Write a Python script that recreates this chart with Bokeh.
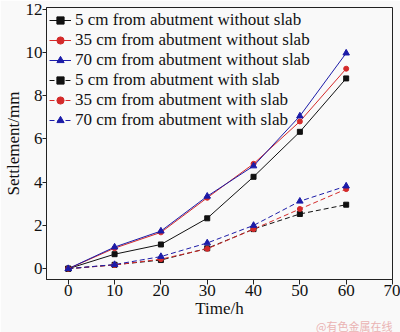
from bokeh.plotting import figure
from bokeh.models import Range1d, FixedTicker, Legend, LegendItem, Title
from bokeh.embed import file_html
from bokeh.resources import INLINE

time_h = [0, 10, 20, 30, 40, 50, 60]
s5_without = [0, 0.67, 1.12, 2.33, 4.25, 6.33, 8.8]
s35_without = [0, 0.95, 1.68, 3.28, 4.85, 6.81, 9.25]
s70_without = [0, 1.0, 1.74, 3.35, 4.75, 7.06, 9.97]
s5_with = [0, 0.18, 0.4, 0.94, 1.83, 2.53, 2.96]
s35_with = [0, 0.17, 0.44, 0.92, 1.83, 2.76, 3.68]
s70_with = [0, 0.19, 0.56, 1.19, 2.0, 3.12, 3.82]

labels = ["5 cm from abutment without slab", "35 cm from abutment without slab",
          "70 cm from abutment without slab", "5 cm from abutment with slab",
          "35 cm from abutment with slab", "70 cm from abutment with slab"]
x_ticks = [0, 10, 20, 30, 40, 50, 60, 70]
y_ticks = [0, 2, 4, 6, 8, 10, 12]
watermark = "@有色金属在线"

FONT = "Times New Roman"
BLACK = "#111111"
RED = "#d42a2a"
BLUE = "#1c1ca8"

p = figure(width=400, height=332, output_backend="svg", toolbar_location=None,
           x_range=Range1d(-4.7, 70), y_range=Range1d(-0.5, 12.08),
           min_border_left=0, min_border_right=8, min_border_top=7, min_border_bottom=0,
           background_fill_color="#f9f9f9", border_fill_color="#f9f9f9")
p.grid.visible = False
p.outline_line_color = "#222222"
p.outline_line_width = 1

for ax in (p.xaxis[0], p.yaxis[0]):
    ax.major_tick_in = 0
    ax.major_tick_out = 5
    ax.minor_tick_line_color = None
    ax.major_label_text_font = FONT
    ax.major_label_text_font_size = "17px"
    ax.major_label_text_color = "#111111"
    ax.axis_label_text_font = FONT
    ax.axis_label_text_font_size = "17px"
    ax.axis_label_text_font_style = "normal"
    ax.axis_label_text_color = "#111111"
    ax.axis_line_color = "#222222"
    ax.major_tick_line_color = "#222222"
p.xaxis[0].ticker = FixedTicker(ticks=x_ticks)
p.yaxis[0].ticker = FixedTicker(ticks=y_ticks)
p.xaxis[0].axis_label = "Time/h"
p.yaxis[0].axis_label = "Settlement/mm"
p.xaxis[0].major_label_standoff = 0
p.yaxis[0].major_label_standoff = 0
p.yaxis[0].major_tick_out = 4
p.xaxis[0].axis_label_standoff = 0
p.yaxis[0].axis_label_standoff = 0

series = [
    (s5_without, BLACK, "square", None),
    (s35_without, RED, "circle", None),
    (s70_without, BLUE, "triangle", None),
    (s5_with, BLACK, "square", "5 3"),
    (s35_with, RED, "circle", "5 3"),
    (s70_with, BLUE, "triangle", "5 3"),
]
items = []
for (ys, color, marker, dash), lab in zip(series, labels):
    kw = {}
    if dash:
        kw["line_dash"] = dash
    ln = p.line(time_h, ys, line_color=color, line_width=1, **kw)
    mk = p.scatter(time_h, ys, marker=marker, size=5 if marker != "triangle" else 6.5,
                   fill_color=color, line_color=color)
    items.append(LegendItem(label=lab, renderers=[ln, mk]))

legend = Legend(items=items, location="top_left")
legend.border_line_color = None
legend.background_fill_alpha = 0
legend.label_text_font = FONT
legend.label_text_font_size = "17px"
legend.label_text_color = "#111111"
legend.glyph_width = 22
legend.glyph_height = 18
legend.label_height = 18
legend.spacing = 0
legend.padding = 0
legend.margin = 3
legend.label_standoff = 4
p.add_layout(legend)

wm = Title(text=watermark, align="right", vertical_align="top", text_font="Noto Sans CJK SC",
           text_font_size="11px", text_color="#eab3b3", text_font_style="normal")
try:
    wm.standoff = -6
except Exception:
    wm.standoff = 0
p.add_layout(wm, "below")

open("out.html", "w").write(file_html(p, INLINE))
